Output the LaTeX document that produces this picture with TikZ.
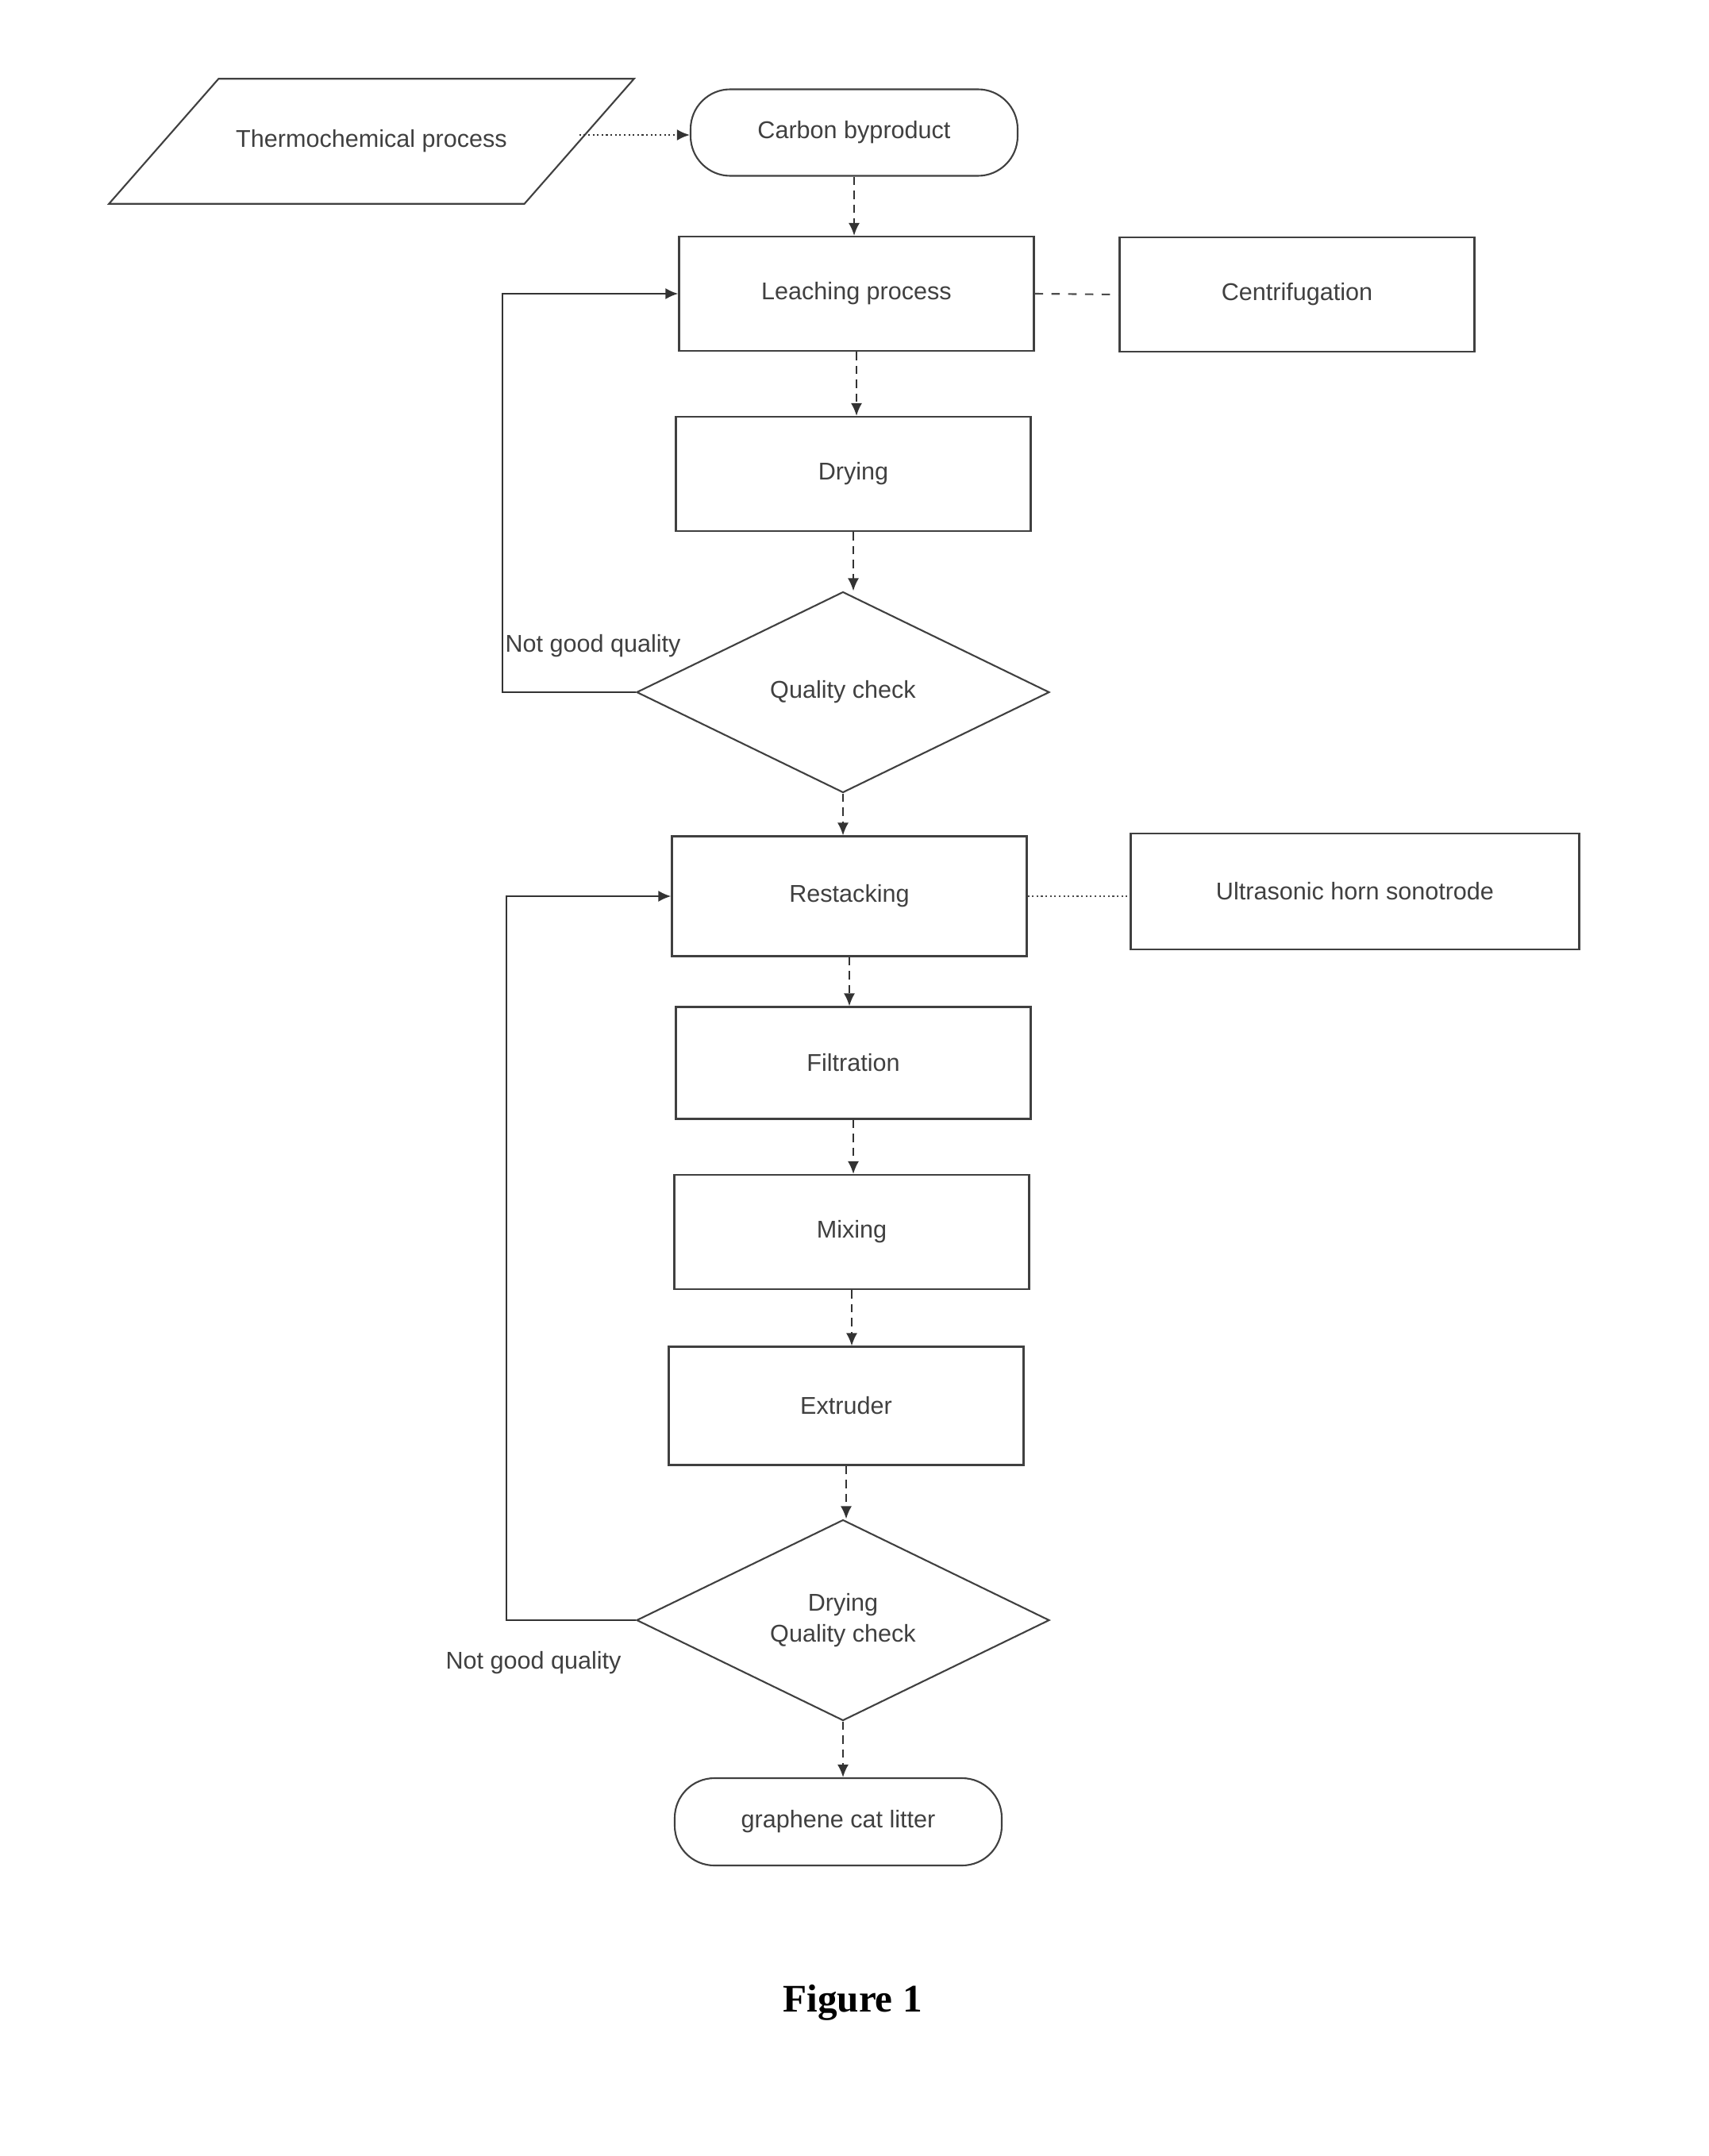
\documentclass[tikz,border=0pt]{standalone}
\usepackage{fontspec}
\setmainfont{Liberation Sans}
\newfontfamily\capfont{Liberation Serif}
\usetikzlibrary{arrows.meta,positioning,shapes.geometric}
\newcommand{\chartfont}{\fontsize{8.7}{11.3}\selectfont}
\tikzset{
  procbox/.style={rectangle, draw=black!75, line width=0.6pt, minimum width=4.47cm, minimum height=1.44cm, inner sep=2pt, font=\chartfont, text=black!75},
  termbox/.style={rectangle, rounded corners=0.5cm, draw=black!75, line width=0.6pt, minimum width=4.12cm, minimum height=1.09cm, inner sep=2pt, font=\chartfont, text=black!75},
  inputbox/.style={rectangle, minimum width=5.22cm, minimum height=1.56cm, inner sep=2pt, font=\chartfont, text=black!75},
  outline/.style={draw=black!75, line width=0.6pt},
  decision/.style={diamond, draw=black!75, line width=0.6pt, minimum width=5.2cm, minimum height=2.53cm, inner sep=0pt, align=center, font=\chartfont, text=black!75},
  remark/.style={font=\chartfont, text=black!75, inner sep=1pt},
  arrow/.style={-{Latex[length=1.6mm, width=1.4mm]}, line width=0.6pt, black!80, densely dashed},
  loopline/.style={-{Latex[length=1.6mm, width=1.4mm]}, line width=0.7pt, black!80},
  sidelink/.style={line width=0.6pt, black!70, dashed},
  dotlink/.style={line width=0.6pt, black!70, densely dotted}
}
\begin{document}
\begin{tikzpicture}
  \useasboundingbox (0,0) rectangle (21.52,-27.16);
  % top of the chart
  \node[inputbox] (thermo) at (4.68,-1.78) {Thermochemical process};
  \draw[outline] ([xshift=-0.69cm]thermo.south west) -- ([xshift=0.69cm]thermo.north west)
    -- ([xshift=0.69cm]thermo.north east) -- ([xshift=-0.69cm]thermo.south east) -- cycle;
  \node[termbox] (carbon) at (10.76,-1.67) {Carbon byproduct};
  \node[procbox] (leach) at (10.79,-3.70) {Leaching process};
  \node[procbox] (centri) at (16.34,-3.71) {Centrifugation};
  \node[procbox] (dry) at (10.75,-5.97) {Drying};
  \node[decision] (check) at (10.62,-8.72) {Quality check};
  % second stage
  \node[procbox, minimum height=1.51cm] (restack) at (10.70,-11.29) {Restacking};
  \node[procbox, minimum width=5.65cm, minimum height=1.46cm] (sono) at (17.07,-11.23) {Ultrasonic horn sonotrode};
  \node[procbox, minimum height=1.41cm] (filter) at (10.75,-13.39) {Filtration};
  \node[procbox] (mix) at (10.73,-15.52) {Mixing};
  \node[procbox, minimum height=1.49cm] (extrude) at (10.66,-17.71) {Extruder};
  \node[decision] (drycheck) at (10.62,-20.41) {Drying\\Quality check};
  \node[termbox, minimum height=1.10cm] (litter) at (10.56,-22.95) {graphene cat litter};
  \node[remark] (bad1) at (7.47,-8.14) {Not good quality};
  \node[remark] (bad2) at (6.72,-20.95) {Not good quality};
  \node[font=\capfont\bfseries\fontsize{14}{16}\selectfont] (fig) at (10.74,-25.23) {Figure 1};

  \draw[arrow, densely dotted] ([yshift=0.08cm]thermo.east) -- ([yshift=0.08cm]thermo.east -| carbon.west);
  \draw[arrow] (carbon.south) -- (carbon.south |- leach.north);
  \draw[arrow] (leach.south) -- (leach.south |- dry.north);
  \draw[arrow] (dry.south) -- (dry.south |- check.north);
  \draw[arrow] (check.south) -- (check.south |- restack.north);
  \draw[arrow] (restack.south) -- (restack.south |- filter.north);
  \draw[arrow] (filter.south) -- (filter.south |- mix.north);
  \draw[arrow] (mix.south) -- (mix.south |- extrude.north);
  \draw[arrow] (extrude.south) -- (extrude.south |- drycheck.north);
  \draw[arrow] (drycheck.south) -- (drycheck.south |- litter.north);
  \draw[sidelink] (leach.east) -- (centri.west);
  \draw[dotlink] (restack.east) -- (restack.east -| sono.west);
  % feedback loops
  \draw[loopline] (check.west) -- ++(-1.68,0) |- (leach.west);
  \draw[loopline] (drycheck.west) -- ++(-1.63,0) |- (restack.west);
\end{tikzpicture}
\end{document}
